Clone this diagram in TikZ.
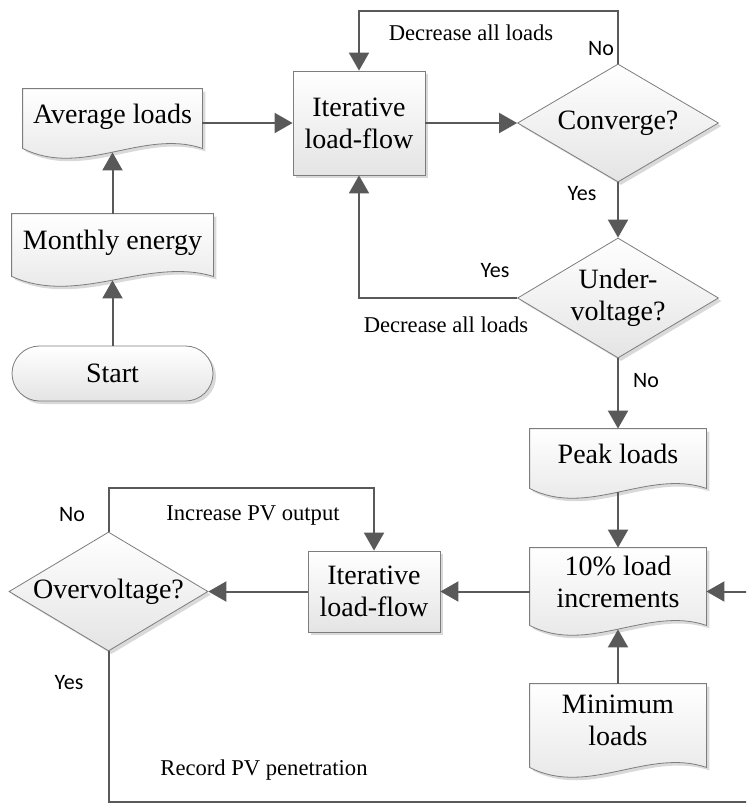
\documentclass[tikz,border=0pt]{standalone}
\usepackage{fontspec}
\setmainfont{Liberation Serif}
\newfontfamily\yesnofont{Carlito}
\usetikzlibrary{positioning}
\usetikzlibrary{calc}
\usetikzlibrary{arrows.meta}
\usetikzlibrary{shapes.misc}
\usetikzlibrary{shapes.geometric}
\usetikzlibrary{shadows}
\definecolor{lineg}{RGB}{89,89,89}
\definecolor{edgeg}{RGB}{125,125,125}
\definecolor{shadeg}{RGB}{228,228,228}
\pgfdeclarelayer{bg}
\pgfsetlayers{bg,main}

\begin{document}
\begin{tikzpicture}[x=0.5pt, y=-0.5pt, >={Triangle[length=9pt,width=10pt]},
    box/.style={rectangle, draw=edgeg, thin, top color=white, bottom color=shadeg,
        drop shadow={shadow xshift=1.5pt, shadow yshift=-1.5pt, fill=black, opacity=0.15},
        font=\fontsize{14}{16}\selectfont, align=center, inner sep=0pt},
    dec/.style={box, diamond, aspect=1.7},
    doc/.style={rectangle, inner sep=0pt, font=\fontsize{14}{16}\selectfont, align=center,
        execute at end node={\rule[-5pt]{0pt}{5pt}}},
    docline/.style={draw=edgeg, thin, top color=white, bottom color=shadeg,
        drop shadow={shadow xshift=1.5pt, shadow yshift=-1.5pt, fill=black, opacity=0.15}},
    conn/.style={->, draw=lineg, line width=1pt},
    lbl/.style={font=\fontsize{11.3}{13}\selectfont},
    yn/.style={font=\yesnofont\fontsize{11}{13}\selectfont}]

    \useasboundingbox (0,0) rectangle (746,803);
    \clip (0,0) rectangle (746,803);

    % Left column
    \node[doc, minimum width=89.5pt, minimum height=29.5pt] (avg) at (112.5,118.5) {Average loads};
    \node[doc, minimum width=100.5pt, minimum height=31pt] (mon) at (112.5,245) {Monthly energy};
    \node[box, rounded rectangle, minimum width=100.5pt, minimum height=27.5pt] (start) at (112.5,373.5) {Start};

    % Upper loop
    \node[box, minimum width=66pt, minimum height=52pt] (lf1) at (359,123) {Iterative\\load-flow};
    \node[dec, minimum width=100.5pt, minimum height=59pt] (conv) at (618,123) {Converge?};
    \node[dec, minimum width=100.5pt, minimum height=60pt] (under) at (618,298) {Under-\\voltage?};

    % Right column
    \node[doc, minimum width=88pt, minimum height=29.5pt] (peak) at (618,458.5) {Peak loads};
    \node[doc, minimum width=88pt, minimum height=38.5pt] (incr) at (618,586.5) {10\% load\\increments};
    \node[doc, minimum width=88pt, minimum height=41.5pt] (minl) at (618,725.5) {Minimum\\loads};

    % Lower loop
    \node[box, minimum width=66pt, minimum height=40.5pt] (lf2) at (374,591.5) {Iterative\\load-flow};
    \node[dec, minimum width=99.5pt, minimum height=59.5pt] (over) at (108.5,591.5) {Overvoltage?};
    \coordinate (rec) at (760,802);

    % Document outlines
    \begin{pgfonlayer}{bg}
        \fill[white] (0,0) rectangle (746,803);
        \foreach \n in {avg,mon,peak,incr,minl}
            \draw[docline] (\n.north west) -- (\n.north east) -- (\n.south east)
                .. controls ($(\n.south east)!0.33!(\n.south west)+(0,10pt)$)
                and ($(\n.south east)!0.67!(\n.south west)+(0,-15pt)$) .. (\n.south west) -- cycle;
    \end{pgfonlayer}

    % Connectors
    \draw[conn, shorten >=2pt] (start.north) -- (mon.south);
    \draw[conn, shorten >=2pt] (mon.north) -- (avg.south);
    \draw[conn] (avg.east |- lf1.west) -- (lf1.west);
    \draw[conn] (lf1.east) -- (conv.west);
    \draw[conn] (conv.north) -- ++(0,-53) -| (lf1.north);
    \draw[conn] (conv.south) -- (under.north);
    \draw[conn] (under.west) -| (lf1.south);
    \draw[conn] (under.south) -- (peak.north);
    \draw[conn, shorten <=2pt] (peak.south) -- (incr.north);
    \draw[conn, shorten >=2pt] (minl.north) -- (incr.south);
    \draw[conn] (incr.west |- lf2.east) -- (lf2.east);
    \draw[conn] (lf2.west) -- (over.east);
    \draw[conn] (over.north) -- ++(0,-44) -| (lf2.north);
    \draw[conn] (over.south) |- (rec) -- (rec |- lf2.east) -- (incr.east |- lf2.east);

    % Labels
    \node[lbl] (dec1) at (471,33) {Decrease all loads};
    \node[yn] (no1) at (601,49) {No};
    \node[yn] (yes1) at (582,194) {Yes};
    \node[yn] (yes2) at (495,271) {Yes};
    \node[lbl] (dec2) at (446,325) {Decrease all loads};
    \node[yn] (no2) at (646,381) {No};
    \node[yn] (no3) at (72,515) {No};
    \node[lbl] (incpv) at (253,515) {Increase PV output};
    \node[yn] (yes3) at (69,683) {Yes};
    \node[lbl] (recpv) at (264,770) {Record PV penetration};
\end{tikzpicture}
\end{document}
